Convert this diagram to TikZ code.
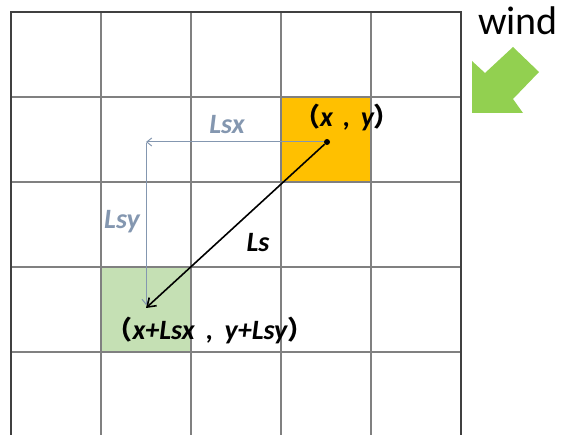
\documentclass[tikz,border=0pt]{standalone}
\usepackage{fontspec}
\setmainfont{Carlito}
\newfontfamily\cjk{Noto Sans CJK SC}
\usetikzlibrary{arrows.meta}
\definecolor{gridgray}{HTML}{808080}
\definecolor{lsblue}{HTML}{8497B0}
\definecolor{cellorange}{HTML}{FFC000}
\definecolor{cellgreen}{HTML}{C5E0B4}
\definecolor{windgreen}{HTML}{92D050}
\newcommand{\lpar}{{\cjk\fontsize{26}{28}\selectfont（}}
\newcommand{\rpar}{{\cjk\fontsize{26}{28}\selectfont ）}}
\tikzset{
  gridline/.style={draw=gridgray, line width=1.2pt},
  lbl/.style={font=\fontsize{28}{30}\selectfont\bfseries\itshape, inner sep=0pt},
  bluearrow/.style={draw=lsblue, line width=1pt, -{Straight Barb[length=5pt,width=8pt]}},
}
\begin{document}
\begin{tikzpicture}[x=1pt,y=-1pt]
\useasboundingbox (0,0) rectangle (562,435);
% coloured cells
\fill[cellorange] (281,97) rectangle (371,182);
\fill[cellgreen] (101,267) rectangle (191,352);
% grid
\foreach \x in {101,191,281,371} \draw[gridline] (\x,12) -- (\x,435);
\foreach \y in {97,182,267,352} \draw[gridline] (11,\y) -- (461,\y);
\draw[line width=1.2pt, draw=black!75] (11,435) -- (11,12) -- (461,12) -- (461,435);
% points
\node[circle, fill=black, inner sep=0pt, minimum size=6pt] (p) at (327,142) {};
\coordinate (q) at (146,308);
\coordinate (c) at (146,142);
\coordinate (cv) at (146,143);
\coordinate (qv) at (146,305);
% blue components
\draw[bluearrow] (p) -- (c);
\draw[lsblue, line width=1pt, -{Straight Barb[length=5pt,width=8pt]}] (cv) -- (qv);
% main arrow
\draw[line width=1.6pt, -{Straight Barb[length=8pt,width=11pt]}] (p) -- (q);
% labels
\node[lbl, text=lsblue] (lsx) at (227,125) {Lsx};
\node[lbl, text=lsblue] (lsy) at (122,222) {Lsy};
\node[lbl] (ls) at (258,243) {Ls};
\node[lbl] (xy) at (347,117) {\lpar x\hspace{4pt} ,\hspace{4pt} y\rpar};
\node[lbl] (xy2) at (210,330) {\lpar x+Lsx\hspace{5pt} ,\hspace{5pt} y+Lsy\rpar};
% wind
\node[font=\fontsize{40}{44}\selectfont, inner sep=0pt] (wind) at (518,21) {wind};
\fill[windgreen] (472,61) -- (485,73) -- (513,47) -- (539,72) -- (513,99) -- (523,113) -- (472,113) -- cycle;
\end{tikzpicture}
\end{document}
